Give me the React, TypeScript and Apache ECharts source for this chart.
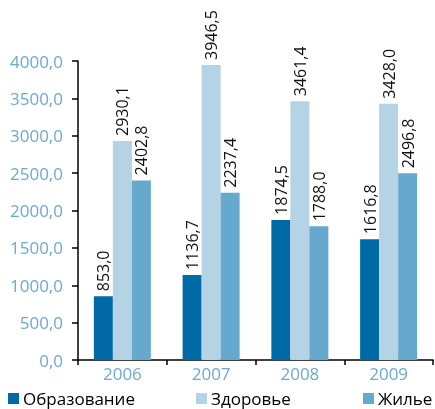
import React, { useEffect, useRef } from "react";
import * as echarts from "echarts";

const categories = ["2006", "2007", "2008", "2009"];
const seriesNames = ["Образование", "Здоровье", "Жилье"];
const education = [853.0, 1136.7, 1874.5, 1616.8];
const health = [2930.1, 3946.5, 3461.4, 3428.0];
const housing = [2402.8, 2237.4, 1788.0, 2496.8];
const colors = ["#006AA6", "#B4D4E6", "#67A8CE"];
const legendLefts = [8, 196, 363];

const fmt = (v: number) => v.toFixed(1).replace(".", ",");
const FONT = "Open Sans";

export default function App() {
  const ref = useRef<HTMLDivElement>(null);
  useEffect(() => {
    const chart = echarts.init(ref.current!, undefined, { renderer: "svg" });
    const values = [education, health, housing];
    chart.setOption({
      animation: false,
      textStyle: { fontFamily: FONT },
      grid: { left: 78, right: 2, top: 61, bottom: 49, containLabel: false },
      legend: seriesNames.map((n, i) => ({
        data: [n],
        left: legendLefts[i],
        top: 390,
        icon: "rect",
        itemWidth: 11,
        itemHeight: 11,
        itemGap: 0,
        padding: 0,
        textStyle: { fontFamily: FONT, fontSize: 17, lineHeight: 17, color: "#000", padding: [0, 0, 0, -1] },
      })),
      xAxis: {
        type: "category",
        data: categories,
        axisLine: { lineStyle: { color: "#000", width: 1.5 } },
        axisTick: { show: true, length: 5, lineStyle: { color: "#000", width: 1.5 } },
        axisLabel: { color: "#6AAAD4", fontSize: 17, fontFamily: FONT, margin: 5 },
      },
      yAxis: {
        type: "value",
        min: 0,
        max: 4000,
        interval: 500,
        splitLine: { show: false },
        axisLine: { show: true, lineStyle: { color: "#000", width: 1.5 } },
        axisTick: { show: true, length: 6, lineStyle: { color: "#000", width: 1.5 } },
        axisLabel: { color: "#6AAAD4", fontSize: 17, fontFamily: FONT, margin: 15, formatter: (v: number) => fmt(v) },
      },
      series: seriesNames.map((n, i) => ({
        name: n,
        type: "bar",
        data: values[i],
        barWidth: 19,
        barGap: "0%",
        itemStyle: { color: colors[i] },
        label: {
          show: true,
          position: "top",
          rotate: 90,
          align: "left",
          verticalAlign: "middle",
          distance: 5,
          color: "#111",
          fontSize: 16,
          fontFamily: FONT,
          formatter: (p: any) => fmt(p.value),
        },
      })),
    });
    return () => chart.dispose();
  }, []);
  return <div ref={ref} style={{ position: "fixed", left: 0, top: 0, width: 435, height: 409 }} />;
}
